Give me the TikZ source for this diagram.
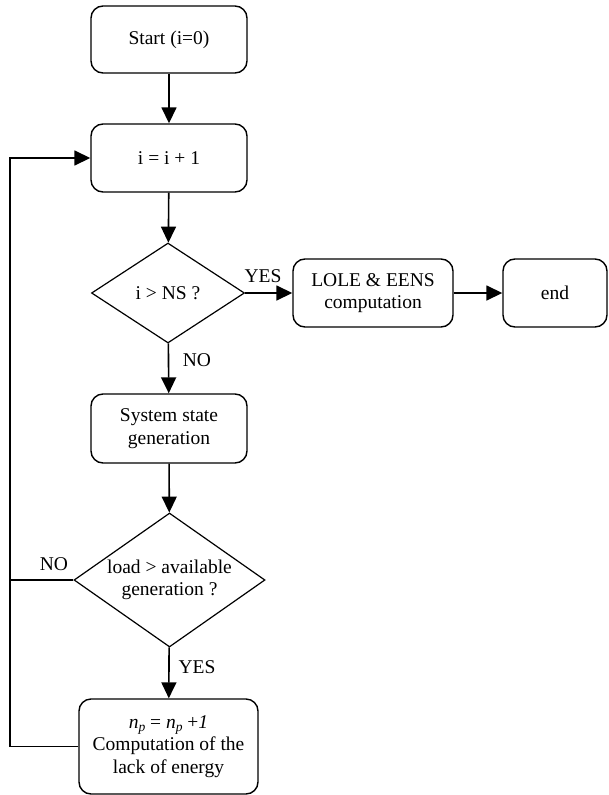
\documentclass[tikz,border=0pt]{standalone}
\usepackage{fontspec}
\setmainfont{Liberation Serif}
\usetikzlibrary{arrows.meta,shapes.geometric}
\tikzset{
  box/.style={draw, line width=1.4pt, rounded corners=12pt, align=center, inner sep=0pt,
    font=\fontsize{19.5}{22.5}\selectfont},
  dec/.style={draw, diamond, line width=1.2pt, align=center, inner sep=0pt,
    font=\fontsize{19.5}{22.5}\selectfont},
  lbl/.style={font=\fontsize{19.5}{22.5}\selectfont, inner sep=0pt},
  arr/.style={line width=1.6pt, -{Triangle[length=16pt,width=15pt]}},
  ln/.style={line width=1.6pt}
}
\begin{document}
\begin{tikzpicture}[x=1pt,y=-1pt]
\useasboundingbox (0,0) rectangle (608,795);
\node[box, minimum width=156pt, minimum height=67pt] (start) at (169,39.5) {Start (i=0)};
\node[box, minimum width=156pt, minimum height=68pt] (inc) at (169,158) {i = i + 1};
\node[dec, aspect=1.53, minimum width=153pt, minimum height=100pt] (d1) at (168,293) {i > NS ?};
\node[box, minimum width=160pt, minimum height=68pt] (lole) at (373,293) {LOLE \& EENS\\computation};
\node[box, minimum width=104pt, minimum height=68pt] (end) at (555,293) {end};
\node[box, minimum width=156pt, minimum height=69pt] (sys) at (169,428.5) {System state\\generation};
\node[dec, aspect=1.43, minimum width=191pt, minimum height=134pt] (d2) at (169.5,580) {load > available\\generation ?};
\node[box, minimum width=179pt, minimum height=95pt] (np) at (168.5,746.5)
  {\textit{n}\raisebox{-0.35ex}{\fontsize{13.5}{13.5}\selectfont\textit{p}} = \textit{n}\raisebox{-0.35ex}{\fontsize{13.5}{13.5}\selectfont\textit{p}} +\textit{1}\\Computation of the\\lack of energy};
\coordinate (loopx) at (10,0);
\draw[arr] (start) -- (inc);
\draw[arr] (inc) -- (d1);
\draw[arr] (d1) -- (lole);
\draw[arr] (lole) -- (end);
\draw[arr] (d1) -- (sys);
\draw[arr] (sys) -- (d2);
\draw[arr] (d2) -- (np);
\draw[ln] (d2.west) -- (d2.west -| loopx);
\draw[arr] (np.west) -- (np.west -| loopx) |- (inc.west);
\node[lbl] (yes1) at (263,276) {YES};
\node[lbl] (no1) at (197,360) {NO};
\node[lbl] (no2) at (54,564) {NO};
\node[lbl] (yes2) at (197,667) {YES};
\end{tikzpicture}
\end{document}
